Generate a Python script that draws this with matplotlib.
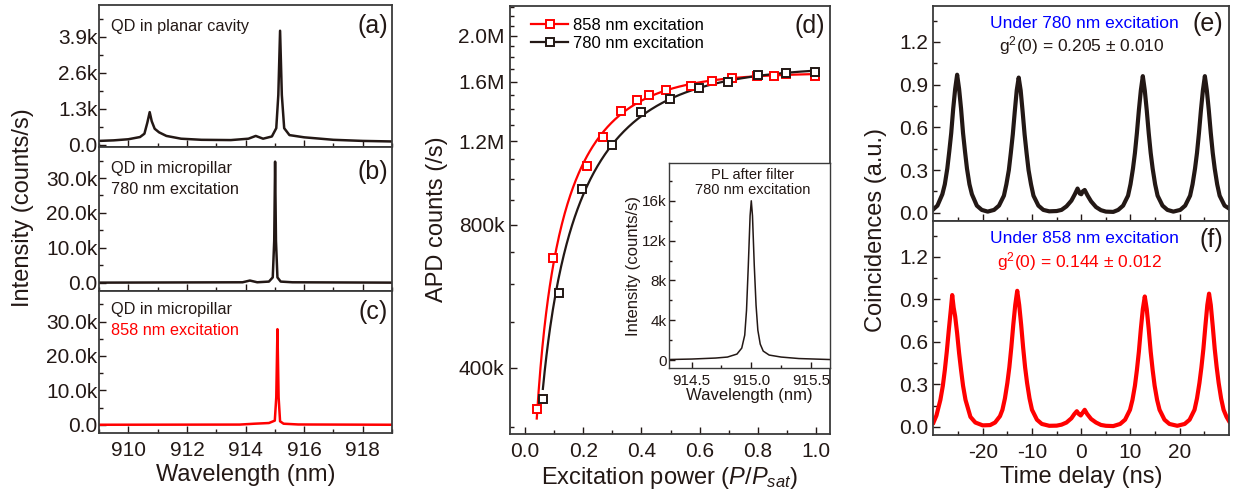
import numpy as np
import matplotlib
matplotlib.use("Agg")
import matplotlib.pyplot as plt
from matplotlib.ticker import MultipleLocator, FixedLocator, FuncFormatter, NullFormatter

plt.rcParams['font.family'] = ['Liberation Sans', 'DejaVu Sans']
plt.rcParams['mathtext.fontset'] = 'custom'
plt.rcParams['mathtext.rm'] = 'Liberation Sans'
plt.rcParams['mathtext.it'] = 'Liberation Sans:italic'
plt.rcParams['axes.unicode_minus'] = False

DARK = '#231815'
RED = '#ff0000'
BLUE = '#0000ff'

# ---- (a) QD in planar cavity, intensity in k counts/s
wl_a = [909.0, 909.5, 910.0, 910.4, 910.55, 910.65, 910.73, 910.8, 910.9, 911.05, 911.3,
        911.8, 912.5, 913.5, 914.1, 914.35, 914.6, 914.9, 915.05, 915.12, 915.18, 915.24,
        915.32, 915.5, 916.0, 917.0, 918.0, 919.0]
int_a = [0.14, 0.16, 0.20, 0.28, 0.40, 0.80, 1.18, 0.85, 0.58, 0.45, 0.32,
         0.22, 0.18, 0.17, 0.22, 0.32, 0.22, 0.30, 0.60, 1.80, 4.12, 1.80,
         0.60, 0.35, 0.27, 0.18, 0.14, 0.12]

# ---- (b) micropillar, 780 nm excitation
wl_b = [909.0, 913.9, 914.15, 914.4, 914.8, 914.93, 914.98, 915.01, 915.04, 915.09, 915.2, 915.6, 919.0]
int_b = [0.0, 0.1, 0.6, 0.1, 0.3, 1.5, 12.0, 34.7, 12.0, 1.5, 0.3, 0.1, 0.0]

# ---- (c) micropillar, 858 nm excitation
wl_c = [909.0, 913.8, 914.3, 914.8, 915.0, 915.05, 915.09, 915.13, 915.18, 915.3, 915.8, 919.0]
int_c = [0.0, 0.05, 0.3, 0.5, 1.2, 8.0, 27.8, 8.0, 1.0, 0.3, 0.08, 0.0]

# ---- (d) APD counts vs excitation power
p_858 = [0.040, 0.097, 0.212, 0.267, 0.328, 0.384, 0.425, 0.485, 0.569, 0.641, 0.712, 0.796, 0.856, 0.896, 0.998]
apd_858 = [327e3, 682e3, 1065e3, 1226e3, 1390e3, 1467e3, 1503e3, 1540e3, 1565e3, 1608e3,
           1630e3, 1648e3, 1645e3, 1664e3, 1645e3]
p_780 = [0.061, 0.118, 0.197, 0.298, 0.398, 0.498, 0.599, 0.699, 0.799, 0.897, 0.998]
apd_780 = [344e3, 574e3, 951e3, 1175e3, 1382e3, 1474e3, 1554e3, 1596e3, 1650e3, 1670e3, 1678e3]

# ---- inset: PL after filter
wl_in = [914.3, 914.5, 914.7, 914.8, 914.88, 914.92, 914.945, 914.96, 914.975, 914.99, 915.0,
         915.01, 915.025, 915.04, 915.055, 915.075, 915.1, 915.15, 915.25, 915.4, 915.66]
int_in = [0.05, 0.1, 0.2, 0.3, 0.6, 1.2, 2.5, 5.0, 9.5, 14.5, 16.0,
          14.5, 9.5, 5.5, 3.0, 1.6, 0.9, 0.5, 0.3, 0.15, 0.05]

# ---- (e) g2 under 780 nm excitation
t_e = [-30.0, -29.2, -28.2, -27.7, -27.2, -26.8, -26.4, -26.0, -25.6, -25.2, -24.8, -24.4, -24.0,
       -23.6, -23.2, -22.7, -22.2, -21.2, -20.2, -19.0, -17.7, -16.7, -15.7, -15.2, -14.7, -14.3,
       -13.9, -13.5, -13.1, -12.7, -12.3, -11.9, -11.5, -11.1, -10.7, -10.2, -9.7, -8.7, -7.7,
       -6.5, -5.0, -4.0, -3.0, -2.0, -1.3, -0.75, -0.3, 0.0, 0.3, 0.7, 1.3, 2.0, 3.0, 4.0, 5.0,
       6.5, 7.5, 8.5, 9.5, 10.0, 10.5, 10.9, 11.3, 11.7, 12.1, 12.5, 12.9, 13.3, 13.7, 14.1, 14.5,
       15.0, 15.5, 16.5, 17.5, 18.7, 20.1, 21.1, 22.1, 22.6, 23.1, 23.5, 23.9, 24.3, 24.7, 25.1,
       25.5, 25.9, 26.3, 26.7, 27.1, 27.6, 28.1, 29.1, 30.0]
g2_e = [0.025, 0.05, 0.13, 0.20, 0.31, 0.43, 0.56, 0.73, 0.87, 0.97, 0.87, 0.73, 0.56,
        0.43, 0.31, 0.20, 0.13, 0.05, 0.02, 0.008, 0.02, 0.05, 0.12, 0.20, 0.30, 0.42,
        0.55, 0.71, 0.86, 0.95, 0.86, 0.71, 0.55, 0.42, 0.30, 0.20, 0.12, 0.05, 0.02,
        0.01, 0.012, 0.02, 0.045, 0.085, 0.13, 0.17, 0.135, 0.13, 0.15, 0.16, 0.12, 0.08, 0.04, 0.018, 0.008,
        0.006, 0.02, 0.05, 0.12, 0.20, 0.31, 0.42, 0.56, 0.72, 0.86, 0.96, 0.86, 0.72, 0.56, 0.42, 0.31,
        0.20, 0.12, 0.05, 0.02, 0.008, 0.02, 0.05, 0.12, 0.20, 0.31, 0.42, 0.56, 0.72, 0.86, 0.96,
        0.86, 0.72, 0.56, 0.42, 0.31, 0.20, 0.12, 0.05, 0.03]

# ---- (f) g2 under 858 nm excitation
t_f = [-30.0, -29.4, -28.6, -28.1, -27.7, -27.3, -26.9, -26.5, -26.2, -25.9, -25.6, -25.2, -24.8,
       -24.4, -24.0, -23.5, -22.5, -21.5, -20.0, -18.5, -17.5, -16.5, -16.0, -15.5, -15.0, -14.6,
       -14.2, -13.8, -13.4, -13.0, -12.6, -12.2, -11.8, -11.4, -11.0, -10.5, -10.0, -9.0, -8.0,
       -6.5, -5.0, -4.0, -3.0, -2.0, -1.4, -0.9, -0.5, -0.1, 0.3, 0.7, 1.2, 2.0, 3.0, 4.0, 5.0,
       6.5, 7.9, 8.9, 9.9, 10.4, 10.9, 11.3, 11.7, 12.1, 12.5, 12.9, 13.3, 13.7, 14.1, 14.5, 14.9,
       15.4, 15.9, 16.9, 17.9, 19.5, 21.0, 22.0, 23.0, 23.5, 24.0, 24.4, 24.8, 25.2, 25.6, 25.95,
       26.3, 26.7, 27.1, 27.5, 27.9, 28.4, 28.9, 29.5, 30.0]
g2_f = [0.03, 0.08, 0.19, 0.29, 0.40, 0.53, 0.68, 0.82, 0.93, 0.84, 0.78, 0.66, 0.52,
        0.40, 0.29, 0.19, 0.07, 0.03, 0.01, 0.012, 0.03, 0.075, 0.12, 0.20, 0.31, 0.42,
        0.56, 0.72, 0.86, 0.96, 0.86, 0.72, 0.56, 0.42, 0.31, 0.20, 0.12, 0.05, 0.02,
        0.007, 0.008, 0.015, 0.03, 0.06, 0.09, 0.11, 0.09, 0.08, 0.10, 0.12, 0.09, 0.055, 0.03, 0.013, 0.007,
        0.005, 0.02, 0.05, 0.12, 0.19, 0.29, 0.40, 0.53, 0.69, 0.83, 0.92, 0.83, 0.69, 0.53, 0.40, 0.29,
        0.19, 0.12, 0.05, 0.02, 0.007, 0.02, 0.05, 0.12, 0.20, 0.31, 0.42, 0.55, 0.71, 0.86, 0.94,
        0.86, 0.71, 0.55, 0.42, 0.31, 0.20, 0.12, 0.07, 0.04]


def fit_sat(x, y):
    # least squares fit of y = A*(1-exp(-x/p)), grid over p
    x = np.asarray(x)
    y = np.asarray(y)
    best = None
    for p in np.linspace(0.05, 0.6, 1101):
        f = 1 - np.exp(-x / p)
        a = np.sum(y * f) / np.sum(f * f)
        err = np.sum((y - a * f) ** 2)
        if best is None or err < best[0]:
            best = (err, a, p)
    xs = np.linspace(x[0], x[-1], 300)
    return xs, best[1] * (1 - np.exp(-xs / best[2]))


def kfmt(v, pos):
    if abs(v) < 1e-9:
        return '0.0'
    return '%.1fk' % v


def style(ax, size=15, ypad=1.5, xpad=5.5):
    ax.tick_params(which='both', direction='in', top=False, right=False, labelsize=size,
                   colors=DARK, width=1.0)
    ax.tick_params(which='major', length=5)
    ax.tick_params(which='minor', length=3)
    ax.tick_params(axis='y', pad=ypad)
    ax.tick_params(axis='x', pad=xpad)
    for s in ax.spines.values():
        s.set_linewidth(1.3)
        s.set_color('#3a3a3a')


fig = plt.figure(figsize=(12.36, 4.94), dpi=100)
W, H = 1236.0, 494.0


def add_ax(x0, y0, x1, y1):
    return fig.add_axes([x0 / W, 1 - y1 / H, (x1 - x0) / W, (y1 - y0) / H])


# left column
ax_a = add_ax(99, 5, 392, 147)
ax_b = add_ax(99, 147, 392, 291)
ax_c = add_ax(99, 291, 392, 433)

ax_a.plot(wl_a, int_a, color=DARK, lw=1.8)
ax_b.plot(wl_b, int_b, color=DARK, lw=1.8)
ax_c.plot(wl_c, int_c, color=RED, lw=1.8)

ax_a.set_ylim(-0.08, 5.05)
ax_a.yaxis.set_major_locator(FixedLocator([0, 1.3, 2.6, 3.9]))
ax_a.yaxis.set_minor_locator(MultipleLocator(0.65))
for ax in (ax_b, ax_c):
    ax.set_ylim(-2.4, 38.9)
    ax.yaxis.set_major_locator(MultipleLocator(10))
    ax.yaxis.set_minor_locator(MultipleLocator(5))
for ax in (ax_a, ax_b, ax_c):
    ax.set_xlim(909, 919)
    ax.xaxis.set_major_locator(MultipleLocator(2))
    ax.xaxis.set_minor_locator(MultipleLocator(1))
    ax.yaxis.set_major_formatter(FuncFormatter(kfmt))
    style(ax, ypad=1.0)
ax_a.tick_params(labelbottom=False)
ax_b.tick_params(labelbottom=False)
ax_c.set_xlabel('Wavelength (nm)', fontsize=17, color=DARK, labelpad=3)

ax_a.text(0.041, 0.852, 'QD in planar cavity', transform=ax_a.transAxes, fontsize=11.7,
          color=DARK, va='center')
ax_a.text(0.986, 0.852, '(a)', transform=ax_a.transAxes, fontsize=18, color=DARK,
          ha='right', va='center')
ax_b.text(0.041, 0.852, 'QD in micropillar', transform=ax_b.transAxes, fontsize=11.7,
          color=DARK, va='center')
ax_b.text(0.041, 0.706, '780 nm excitation', transform=ax_b.transAxes, fontsize=11.7,
          color=DARK, va='center')
ax_b.text(0.986, 0.828, '(b)', transform=ax_b.transAxes, fontsize=18, color=DARK,
          ha='right', va='center')
ax_c.text(0.041, 0.873, 'QD in micropillar', transform=ax_c.transAxes, fontsize=11.7,
          color=DARK, va='center')
ax_c.text(0.041, 0.725, '858 nm excitation', transform=ax_c.transAxes, fontsize=11.7,
          color=RED, va='center')
ax_c.text(0.986, 0.85, '(c)', transform=ax_c.transAxes, fontsize=18, color=DARK,
          ha='right', va='center')
fig.text(23 / W, 1 - 208 / H, 'Intensity (counts/s)', rotation=90, fontsize=17,
         color=DARK, ha='center', va='center')

# middle panel (d)
ax_d = add_ax(510, 6, 830, 434)
xs, ys = fit_sat(p_858, apd_858)
ax_d.plot(xs, ys, color=RED, lw=1.6)
xs, ys = fit_sat(p_780, apd_780)
ax_d.plot(xs, ys, color=DARK, lw=1.6)
ax_d.plot(p_858, apd_858, 's', ms=6, mfc='white', mec=RED, mew=1.4)
ax_d.plot(p_780, apd_780, 's', ms=6, mfc='white', mec=DARK, mew=1.4)
ax_d.plot([], [], '-s', color=RED, ms=6, mfc='white', mew=1.4, lw=1.6, label='858 nm excitation')
ax_d.plot([], [], '-s', color=DARK, ms=6, mfc='white', mew=1.4, lw=1.6, label='780 nm excitation')
ax_d.set_yscale('log')
ax_d.set_ylim(290e3, 2.31e6)
ax_d.set_xlim(-0.052, 1.048)
ax_d.yaxis.set_major_locator(FixedLocator([400e3, 800e3, 1.2e6, 1.6e6, 2.0e6]))
ax_d.yaxis.set_minor_locator(FixedLocator([v * 1e5 for v in range(3, 24) if v not in (4, 8, 12, 16, 20)]))
ax_d.yaxis.set_major_formatter(FuncFormatter(
    lambda v, p: '%dk' % round(v / 1e3) if v < 1e6 else '%.1fM' % (v / 1e6)))
ax_d.yaxis.set_minor_formatter(NullFormatter())
ax_d.xaxis.set_major_locator(MultipleLocator(0.2))
ax_d.xaxis.set_minor_locator(MultipleLocator(0.1))
ax_d.xaxis.set_major_formatter(FuncFormatter(lambda v, p: '%.1f' % v))
style(ax_d, ypad=4)
ax_d.set_xlabel('Excitation power ($P$/$P_{sat}$)', fontsize=17, color=DARK, labelpad=3)
fig.text(437 / W, 1 - 219 / H, 'APD counts (/s)', rotation=90, fontsize=17,
         color=DARK, ha='center', va='center')
ax_d.text(0.984, 0.953, '(d)', transform=ax_d.transAxes, fontsize=18, color=DARK,
          ha='right', va='center')
ax_d.legend(loc='upper left', bbox_to_anchor=(0.03, 1.0), frameon=False, fontsize=12,
            handlelength=2.2, handletextpad=0.3, labelspacing=0.2, borderaxespad=0.3)

# inset
ax_in = add_ax(669, 163, 830, 368)
ax_in.plot(wl_in, int_in, color=DARK, lw=1.1)
ax_in.set_xlim(914.31, 915.66)
ax_in.set_ylim(-0.8, 19.8)
ax_in.xaxis.set_major_locator(MultipleLocator(0.5))
ax_in.xaxis.set_minor_locator(MultipleLocator(0.25))
ax_in.xaxis.set_major_formatter(FuncFormatter(lambda v, p: '%.1f' % v))
ax_in.yaxis.set_major_locator(MultipleLocator(4))
ax_in.yaxis.set_minor_locator(MultipleLocator(2))
ax_in.yaxis.set_major_formatter(FuncFormatter(lambda v, p: '0' if abs(v) < 1e-9 else '%dk' % v))
style(ax_in, size=11, ypad=1.5, xpad=4)
ax_in.tick_params(which='major', length=4)
ax_in.tick_params(which='minor', length=2.5)
for s in ax_in.spines.values():
    s.set_linewidth(1.0)
ax_in.set_xlabel('Wavelength (nm)', fontsize=12, color=DARK, labelpad=0)
ax_in.set_ylabel('Intensity (counts/s)', fontsize=12, color=DARK, labelpad=1)
ax_in.text(0.52, 0.94, 'PL after filter', transform=ax_in.transAxes, fontsize=10.5,
           color=DARK, ha='center', va='center')
ax_in.text(0.52, 0.868, '780 nm excitation', transform=ax_in.transAxes, fontsize=10.5,
           color=DARK, ha='center', va='center')

# right column (e), (f)
ax_e = add_ax(933, 6, 1229, 221)
ax_f = add_ax(933, 221, 1229, 435)
ax_e.plot(t_e, g2_e, color=DARK, lw=3.0)
ax_f.plot(t_f, g2_f, color=RED, lw=3.0)
for ax in (ax_e, ax_f):
    ax.set_xlim(-30.1, 30)
    ax.set_ylim(-0.058, 1.453)
    ax.yaxis.set_major_locator(MultipleLocator(0.3))
    ax.yaxis.set_minor_locator(MultipleLocator(0.15))
    ax.yaxis.set_major_formatter(FuncFormatter(lambda v, p: '%.1f' % v))
    ax.xaxis.set_major_locator(FixedLocator([-20, -10, 0, 10, 20]))
    ax.xaxis.set_minor_locator(FixedLocator([-25, -15, -5, 5, 15, 25]))
    ax.xaxis.set_major_formatter(FuncFormatter(lambda v, p: '%d' % round(v)))
    style(ax, ypad=3.5)
ax_e.tick_params(labelbottom=False)
ax_f.set_xlabel('Time delay (ns)', fontsize=17, color=DARK, labelpad=3)
fig.text(876 / W, 1 - 230 / H, 'Coincidences (a.u.)', rotation=90, fontsize=17,
         color=DARK, ha='center', va='center')

ax_e.text(0.512, 0.919, 'Under 780 nm excitation', transform=ax_e.transAxes, fontsize=12.5,
          color=BLUE, ha='center', va='center')
ax_e.text(0.503, 0.815, 'g$^{2}$(0) = 0.205 \u00b1 0.010', transform=ax_e.transAxes,
          fontsize=12.5, color=DARK, ha='center', va='center')
ax_e.text(0.981, 0.916, '(e)', transform=ax_e.transAxes, fontsize=18, color=DARK,
          ha='right', va='center')
ax_f.text(0.512, 0.918, 'Under 858 nm excitation', transform=ax_f.transAxes, fontsize=12.5,
          color=BLUE, ha='center', va='center')
ax_f.text(0.497, 0.809, 'g$^{2}$(0) = 0.144 \u00b1 0.012', transform=ax_f.transAxes,
          fontsize=12.5, color=RED, ha='center', va='center')
ax_f.text(0.981, 0.91, '(f)', transform=ax_f.transAxes, fontsize=18, color=DARK,
          ha='right', va='center')

fig.savefig('out.png', dpi=100)
